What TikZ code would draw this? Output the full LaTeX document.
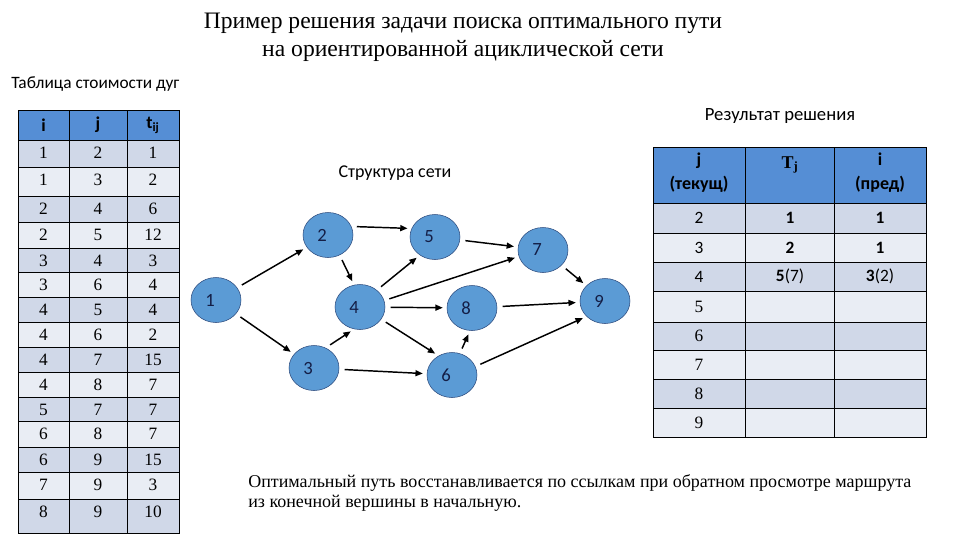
\documentclass[tikz,border=0pt]{standalone}
\usepackage{fontspec}
\setmainfont{Liberation Serif}
\newfontfamily\calibri{Carlito}
\usetikzlibrary{shapes.geometric,arrows.meta}
\definecolor{hdblue}{RGB}{85,142,213}
\definecolor{vxblue}{RGB}{91,155,213}
\definecolor{vxedge}{RGB}{45,75,125}
\definecolor{vxtext}{RGB}{20,30,70}
\definecolor{rowdark}{RGB}{208,216,232}
\definecolor{rowlight}{RGB}{233,237,244}
\tikzset{
  vert/.style={ellipse,draw=vxedge,fill=vxblue,minimum width=37.5pt,minimum height=33.75pt,inner sep=0pt},
  vnum/.style={font=\calibri\fontsize{14}{16}\selectfont,text=vxtext,xshift=-4.5pt},
  arc/.style={-{Triangle[length=5.5pt,width=4.5pt]},line width=1.1pt,shorten <=4pt,shorten >=3pt},
  cell/.style={font=\fontsize{13}{15}\selectfont,inner sep=0pt},
  rcell/.style={font=\calibri\fontsize{13}{15}\selectfont,inner sep=0pt},
  hcell/.style={font=\calibri\bfseries\fontsize{13.5}{18}\selectfont,align=center,inner sep=0pt},
  caption/.style={font=\calibri\fontsize{13}{15}\selectfont,inner sep=0pt}
}
\begin{document}
\begin{tikzpicture}[x=0.75pt,y=-0.75pt]
\useasboundingbox[fill=white] (0,0) rectangle (960,540);
\node[font=\fontsize{17.7}{21}\selectfont,align=center] (title) at (463,37) {Пример решения задачи поиска оптимального пути\\на ориентированной ациклической сети};
\node[caption,anchor=west] (captab) at (11,84) {Таблица стоимости дуг};
\node[caption,font=\calibri\fontsize{14}{16}\selectfont] (capres) at (780,116) {Результат решения};
\node[caption,font=\calibri\fontsize{13.5}{16}\selectfont] (capnet) at (395,173) {Структура сети};
% table of arcs
\fill[hdblue] (18,110) rectangle (179,140);
\node[hcell] (hi) at (43.5,125) {i};
\node[hcell] (hj) at (98,125) {j};
\node[hcell] (ht) at (153,125) {t\textsubscript{ij}};
\foreach \ya/\yb/\ci/\cj/\ct [count=\k] in {140/167/1/2/1,167/196/1/3/2,196/222/2/4/6,222/248/2/5/12,248/272/3/4/3,272/297/3/6/4,297/322/4/5/4,322/347/4/6/2,347/372/4/7/15,372/397/4/8/7,397/421/5/7/7,421/447/6/8/7,447/472/6/9/15,472/499/7/9/3,499/533/8/9/10}{
  \ifodd\k\def\rc{rowdark}\else\def\rc{rowlight}\fi
  \fill[\rc] (18,\ya) rectangle (179,\yb);
  \draw (18,\ya) -- (179,\ya);
  \node[cell] (ti\k) at (43.5,\ya+13) {\ci};
  \node[cell] (tj\k) at (98,\ya+13) {\cj};
  \node[cell] (tt\k) at (153,\ya+13) {\ct};
}
\draw (18,110) rectangle (179,533);
\foreach \x in {69,127} \draw (\x,110) -- (\x,533);
% table of results
\fill[hdblue] (653,147) rectangle (926,203);
\node[hcell] (rhj) at (699,173) {j\\(текущ)};
\node[hcell,font=\bfseries\fontsize{13.5}{15}\selectfont] (rht) at (790,165) {T\textsubscript{j}};
\node[hcell] (rhi) at (880,173) {i\\(пред)};
\foreach \ya/\yb/\cj/\cT/\cp [count=\k] in {203/233/{\calibri 2}/\textbf{1}/\textbf{1},233/262/{\calibri 3}/\textbf{2}/\textbf{1},262/291/{\calibri 4}/\textbf{5}(7)/\textbf{3}(2),291/322/5/{}/{},322/350/6/{}/{},350/379/7/{}/{},379/408/8/{}/{},408/437/9/{}/{}}{
  \ifodd\k\def\rc{rowdark}\else\def\rc{rowlight}\fi
  \fill[\rc] (653,\ya) rectangle (926,\yb);
  \draw (653,\ya) -- (926,\ya);
  \node[cell,font=\fontsize{13}{15}\selectfont] (rj\k) at (699,{(\ya+\yb)/2}) {\cj};
  \node[rcell] (rt\k) at (790,{(\ya+\yb)/2}) {\cT};
  \node[rcell] (rp\k) at (880,{(\ya+\yb)/2}) {\cp};
}
\draw (653,147) rectangle (926,437);
\foreach \x in {745,834} \draw (\x,147) -- (\x,437);
% network
\node[vert,label={[vnum]center:1}] (n1) at (216,300) {};
\node[vert,label={[vnum]center:2}] (n2) at (328,235) {};
\node[vert,label={[vnum]center:3}] (n3) at (314,368) {};
\node[vert,label={[vnum]center:4}] (n4) at (360,307) {};
\node[vert,label={[vnum]center:5}] (n5) at (435,237) {};
\node[vert,label={[vnum]center:6}] (n6) at (452,375) {};
\node[vert,label={[vnum]center:7}] (n7) at (543,250) {};
\node[vert,label={[vnum]center:8}] (n8) at (472,308) {};
\node[vert,label={[vnum]center:9}] (n9) at (605,301) {};
\draw[arc] (n1) -- (n2);
\draw[arc] (n1) -- (n3);
\draw[arc] (n2.20) -- (n5.160);
\draw[arc] (n2.-60) -- (n4.105);
\draw[arc] (n3.60) -- (n4.-105);
\draw[arc] (n3) -- (n6);
\draw[arc] (n4.45) -- (n5.-130);
\draw[arc] (n4.15) -- (n7.195);
\draw[arc] (n4) -- (n8);
\draw[arc] (n4.-30) -- (n6.125);
\draw[arc] (n5) -- (n7);
\draw[arc] (n6.70) -- (n8.-95);
\draw[arc] (n6.20) -- (n9.-140);
\draw[arc] (n7) -- (n9);
\draw[arc] (n8) -- (n9);
\node[font=\fontsize{13.5}{15}\selectfont,align=left,anchor=west,inner sep=0pt] (note) at (248,493) {Оптимальный путь восстанавливается по ссылкам при обратном просмотре маршрута\\из конечной вершины в начальную.};
\end{tikzpicture}
\end{document}
